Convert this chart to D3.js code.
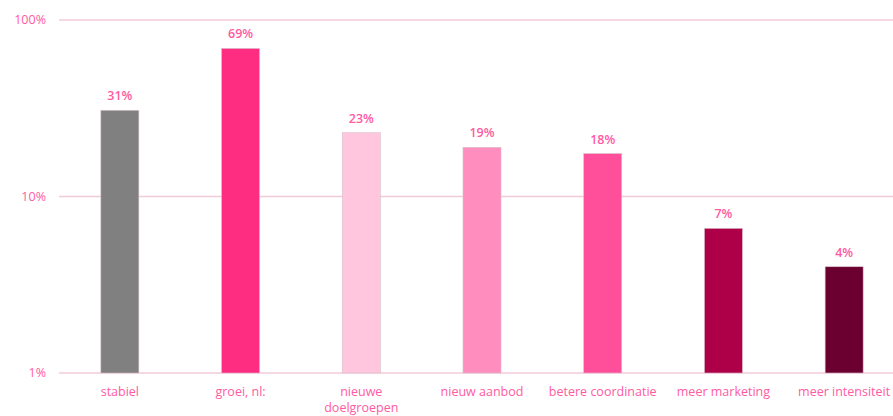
<!DOCTYPE html>
<html><head><meta charset="utf-8">
<script src="https://cdn.jsdelivr.net/npm/d3@7"></script>
<style>html,body{margin:0;padding:0;background:#fff;overflow:hidden}</style>
</head><body><svg id="c" width="893" height="416"></svg>
<script>
const categories = ["stabiel","groei, nl:","nieuwe doelgroepen","nieuw aanbod","betere coordinatie","meer marketing","meer intensiteit"];
const values = [30.8, 69, 23, 19, 17.5, 6.6, 4.0];
const colors = ["#808080","#ff2d82","#ffc6de","#ff8dbe","#ff4f9b","#ad0048","#6b0030"];
const tickValues = [1, 10, 100];
const tickLabels = ["1%","10%","100%"];

const svg = d3.select("#c");
const font = "'Open Sans', sans-serif";
const pink = "#ff5aa2";
const x = d3.scaleBand().domain(categories).range([59.5, 904.5]).paddingInner(0.685).paddingOuter(0.3425);
const y = d3.scaleLog().domain([1, 100]).range([373, 20]);

// gridlines
svg.append("g").selectAll("line").data(tickValues).join("line")
  .attr("x1", 59).attr("x2", 893)
  .attr("y1", d => y(d)).attr("y2", d => y(d))
  .attr("stroke", "#f2cbdb").attr("stroke-width", 1.5);

// y tick labels
svg.append("g").selectAll("text").data(tickValues).join("text")
  .attr("x", 46).attr("y", d => y(d)).attr("dy", "0.35em")
  .attr("text-anchor", "end").attr("fill", pink)
  .attr("font-family", font).attr("font-size", 12.5)
  .text((d, i) => tickLabels[i]);

// bars
svg.append("g").selectAll("rect").data(categories).join("rect")
  .attr("x", d => x(d)).attr("width", x.bandwidth())
  .attr("y", (d, i) => y(values[i]))
  .attr("height", (d, i) => y(1) - y(values[i]))
  .attr("fill", (d, i) => colors[i])
  .attr("stroke", "#d8c0c8").attr("stroke-width", 0.6);

// value labels
svg.append("g").selectAll("text").data(categories).join("text")
  .attr("x", d => x(d) + x.bandwidth() / 2)
  .attr("y", (d, i) => y(values[i]) - 10)
  .attr("text-anchor", "middle").attr("fill", pink)
  .attr("font-family", font).attr("font-size", 12.5).attr("font-weight", 600)
  .text((d, i) => Math.round(values[i]) + "%");

// x labels
const xl = svg.append("g").selectAll("text").data(categories).join("text")
  .attr("x", d => x(d) + x.bandwidth() / 2)
  .attr("y", 396)
  .attr("text-anchor", "middle").attr("fill", pink)
  .attr("font-family", font).attr("font-size", 12.5);
xl.each(function(d) {
  const t = d3.select(this);
  const parts = d === "nieuwe doelgroepen" ? ["nieuwe", "doelgroepen"] : [d];
  parts.forEach((p, i) => {
    t.append("tspan").attr("x", x(d) + x.bandwidth() / 2).attr("dy", i === 0 ? 0 : 16).text(p);
  });
});
</script></body></html>
